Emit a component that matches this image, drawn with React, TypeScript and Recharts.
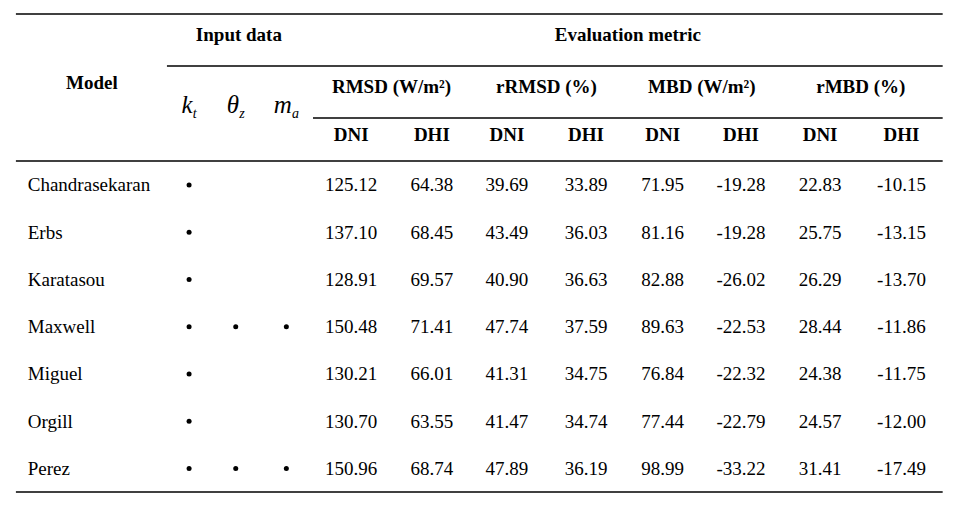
import { ScatterChart, Scatter, XAxis, YAxis, ReferenceLine } from "recharts";

// table content
const models = ["Chandrasekaran", "Erbs", "Karatasou", "Maxwell", "Miguel", "Orgill", "Perez"];
const usesKt = [true, true, true, true, true, true, true];
const usesThetaZ = [false, false, false, true, false, false, true];
const usesMa = [false, false, false, true, false, false, true];

const rmsdDni = [125.12, 137.1, 128.91, 150.48, 130.21, 130.7, 150.96];
const rmsdDhi = [64.38, 68.45, 69.57, 71.41, 66.01, 63.55, 68.74];
const rrmsdDni = [39.69, 43.49, 40.9, 47.74, 41.31, 41.47, 47.89];
const rrmsdDhi = [33.89, 36.03, 36.63, 37.59, 34.75, 34.74, 36.19];
const mbdDni = [71.95, 81.16, 82.88, 89.63, 76.84, 77.44, 98.99];
const mbdDhi = [-19.28, -19.28, -26.02, -22.53, -22.32, -22.79, -33.22];
const rmbdDni = [22.83, 25.75, 26.29, 28.44, 24.38, 24.57, 31.41];
const rmbdDhi = [-10.15, -13.15, -13.7, -11.86, -11.75, -12.0, -17.49];

const metricGroups = ["RMSD (W/m²)", "rRMSD (%)", "MBD (W/m²)", "rMBD (%)"];
const components = ["DNI", "DHI"];
const inputVars = [
    { base: "k", sub: "t" },
    { base: "θ", sub: "z" },
    { base: "m", sub: "a" }
];

/*
layout, in axis units (one x unit ~ one metric column, one y unit ~ one body row)
*/
const metricCols = [4.34, 5.36, 6.31, 7.31, 8.28, 9.27, 10.27, 11.3];
const inputCols = [2.29, 2.88, 3.52];
const modelCol = 0.25;
const bodyTop = 3.745;
const headerRows = { top: 0.57, model: 1.59, group: 1.67, vars: 2.12, comp: 2.69 };
const rules = { top: 0.127, mid: 1.227, sub: 2.328, body: 3.237, bottom: 10.241 };
const tableLeft = 0.1;
const tableRight = 11.82;

const FONT = "'Liberation Serif', 'Times New Roman', 'DejaVu Serif', serif";

const metricSeries = [rmsdDni, rmsdDhi, rrmsdDni, rrmsdDhi, mbdDni, mbdDhi, rmbdDni, rmbdDhi];

const valueCells = metricSeries.flatMap((series, c) =>
    series.map((v, r) => ({ x: metricCols[c], y: bodyTop + r, label: v.toFixed(2) }))
);
const modelCells = models.map((m, r) => ({ x: modelCol, y: bodyTop + r, label: m }));
const dotCells = [usesKt, usesThetaZ, usesMa].flatMap((flags, c) =>
    flags.flatMap((f, r) => (f ? [{ x: inputCols[c], y: bodyTop + r }] : []))
);

const boldCells = [
    { x: 1.06, y: headerRows.model, label: "Model" },
    { x: 2.92, y: headerRows.top, label: "Input data" },
    { x: 7.84, y: headerRows.top, label: "Evaluation metric" },
    ...metricGroups.map((g, i) => ({
        x: (metricCols[i * 2] + metricCols[i * 2 + 1]) / 2,
        y: headerRows.group,
        label: g
    })),
    ...metricCols.map((x, i) => ({ x, y: headerRows.comp, label: components[i % 2] }))
];
const varCells = inputVars.map((v, i) => ({ x: inputCols[i], y: headerRows.vars, ...v }));

const textShape = (weight: number, anchor: "start" | "middle") => (props: any) => (
    <text x={props.cx} y={props.cy} dy="0.33em" textAnchor={anchor}
        style={{ fontFamily: FONT, fontSize: 19, fontWeight: weight }} fill="#000">
        {props.payload.label}
    </text>
);

const dotShape = (props: any) => <circle cx={props.cx} cy={props.cy} r={2.5} fill="#000" />;

const varShape = (props: any) => (
    <text x={props.cx} y={props.cy} dy="0.33em" textAnchor="middle" style={{ fontFamily: FONT }} fill="#000">
        <tspan style={{ fontStyle: "italic", fontSize: 25 }}>{props.payload.base}</tspan>
        <tspan style={{ fontStyle: "italic", fontSize: 14 }} dy={5}>{props.payload.sub}</tspan>
    </text>
);

function hRule(y: number, x1: number, key: string) {
    return (
        <ReferenceLine key={key} segment={[{ x: x1, y }, { x: tableRight, y }]}
            stroke="#000" strokeWidth={1.4} ifOverflow="visible" />
    );
}

export default function App() {
    return (
        <ScatterChart width={941} height={493} margin={{ top: 0, right: 0, bottom: 0, left: 0 }}>
            <XAxis type="number" dataKey="x" domain={[0, 11.9]} allowDataOverflow hide />
            <YAxis type="number" dataKey="y" domain={[0, 10.43]} allowDataOverflow reversed hide />

            {hRule(rules.top, tableLeft, "top")}
            {hRule(rules.mid, 2.01, "mid")}
            {hRule(rules.sub, 3.857, "sub")}
            {hRule(rules.body, tableLeft, "body")}
            {hRule(rules.bottom, tableLeft, "bottom")}

            <Scatter data={boldCells} shape={textShape(700, "middle")} isAnimationActive={false} />
            <Scatter data={varCells} shape={varShape} isAnimationActive={false} />
            <Scatter data={modelCells} shape={textShape(400, "start")} isAnimationActive={false} />
            <Scatter data={valueCells} shape={textShape(400, "middle")} isAnimationActive={false} />
            <Scatter data={dotCells} shape={dotShape} isAnimationActive={false} />
        </ScatterChart>
    );
}
